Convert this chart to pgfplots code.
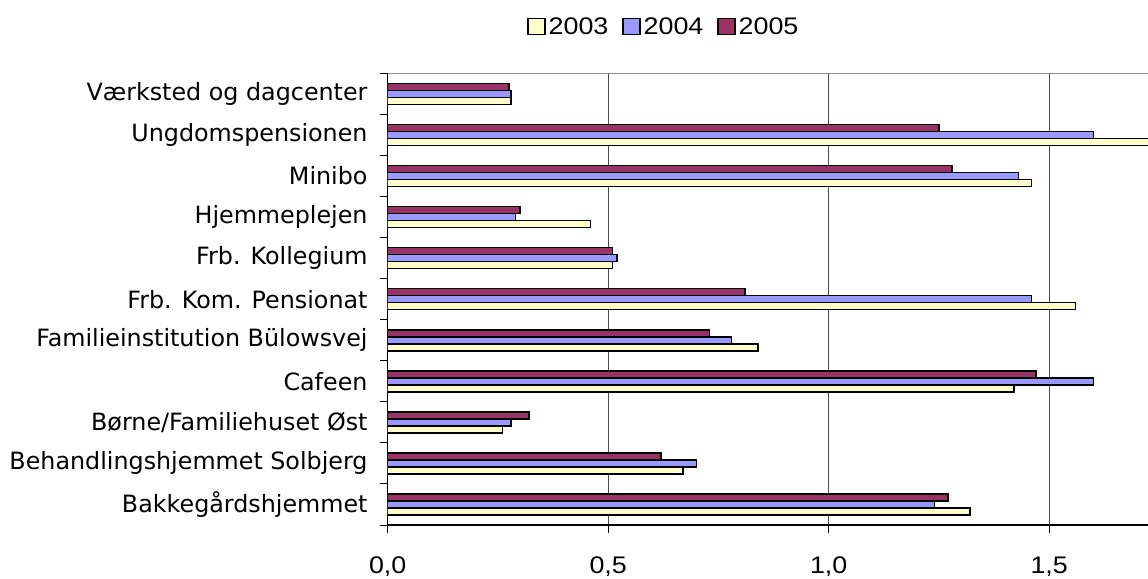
\documentclass[border=0pt]{standalone}
\usepackage{fontspec}
\setmainfont{Liberation Sans}[FakeStretch=1.12]
\newfontfamily\catfont{DejaVu Sans}
\usepackage{pgfplots}
\pgfplotsset{compat=1.18}
\definecolor{c2003}{HTML}{FFFFCC}
\definecolor{c2004}{HTML}{9999FF}
\definecolor{c2005}{HTML}{993366}

\begin{document}
\begin{tikzpicture}
\useasboundingbox (-387.7bp,-54bp) rectangle (760.3bp,525bp);
\begin{axis}[
    at={(0,0)}, anchor=south west,
    scale only axis, width=760.3bp, height=451.7bp,
    xbar=0pt, bar width=7bp,
    xmin=0, xmax=1.724, ymin=-0.5, ymax=10.5,
    axis lines=left, axis line style={black, line width=1.4bp, -},
    tick align=outside, major tick length=8bp,
    tick style={black, line width=1bp},
    xtick={0,0.5,1,1.5},
    xmajorgrids, grid style={black!70, line width=1bp},
    xticklabel style={font=\fontsize{24bp}{24bp}\selectfont, yshift=-20bp},
    /pgf/number format/.cd, use comma, fixed, fixed zerofill, precision=1, assume math mode=true,
    /pgfplots/.cd,
    ytick={-0.5,0.5,...,10.5}, yticklabels={},
    extra y ticks={0,1,2,3,4,5,6,7,8,9,10},
    extra y tick labels={Bakkegårdshjemmet, Behandlingshjemmet Solbjerg, Børne/Familiehuset Øst, Cafeen, Familieinstitution Bülowsvej, Frb. Kom. Pensionat, Frb. Kollegium, Hjemmeplejen, Minibo, Ungdomspensionen, Værksted og dagcenter},
    extra y tick style={major tick length=0pt, grid=none},
    yticklabel style={font=\catfont\fontsize{23.8bp}{23.8bp}\selectfont, inner sep=0pt, xshift=-20bp},
    legend style={at={(0.362,1.1036)}, anchor=center, draw=none, fill=none,
        legend columns=-1, font=\fontsize{24bp}{24bp}\selectfont,
        nodes={inner sep=0pt},
        /tikz/every odd column/.append style={column sep=3bp},
        /tikz/every even column/.append style={column sep=14bp}},
    legend image code/.code={\draw[#1, line width=1.2bp] (0bp,-8bp) rectangle (17bp,8bp);},
]
\addplot[fill=c2003, draw=black, line width=1.6bp] coordinates {
    (1.32,0) (0.67,1) (0.26,2) (1.42,3) (0.84,4) (1.56,5) (0.51,6) (0.46,7) (1.46,8) (1.80,9) (0.28,10)
};
\addplot[fill=c2004, draw=black, line width=1.6bp] coordinates {
    (1.24,0) (0.70,1) (0.28,2) (1.60,3) (0.78,4) (1.46,5) (0.52,6) (0.29,7) (1.43,8) (1.60,9) (0.28,10)
};
\addplot[fill=c2005, draw=black, line width=1.6bp] coordinates {
    (1.27,0) (0.62,1) (0.32,2) (1.47,3) (0.73,4) (0.81,5) (0.51,6) (0.30,7) (1.28,8) (1.25,9) (0.275,10)
};
\legend{2003, 2004, 2005}
\draw[black!45, line width=2.4bp] (rel axis cs:0,1) -- (rel axis cs:1,1);
\end{axis}
\end{tikzpicture}
\end{document}
